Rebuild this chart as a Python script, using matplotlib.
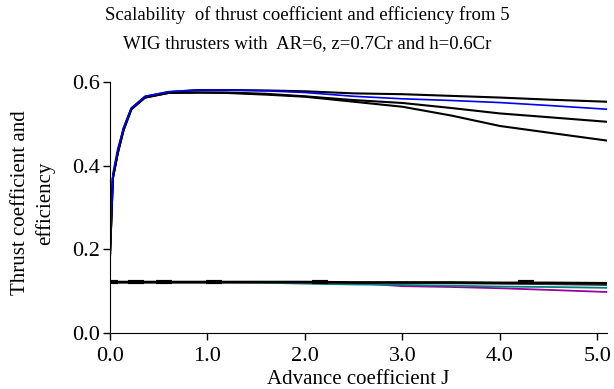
import matplotlib
matplotlib.use("Agg")
import matplotlib.pyplot as plt

plt.rcParams['font.family'] = ['Liberation Serif', 'DejaVu Serif']

J = [0.0, 0.03, 0.08, 0.14, 0.22, 0.36, 0.6, 0.9, 1.2, 1.6, 2.0, 2.5, 3.0, 3.5, 4.0, 4.5, 5.1]

eff_black1 = [0.18, 0.37, 0.43, 0.49, 0.537, 0.565, 0.576, 0.581, 0.581, 0.580, 0.578, 0.573, 0.571, 0.567, 0.563, 0.558, 0.553]
eff_blue   = [0.18, 0.38, 0.44, 0.49, 0.538, 0.566, 0.577, 0.581, 0.581, 0.579, 0.575, 0.566, 0.560, 0.556, 0.551, 0.544, 0.535]
eff_black2 = [0.18, 0.37, 0.43, 0.485, 0.535, 0.563, 0.574, 0.575, 0.575, 0.572, 0.566, 0.557, 0.550, 0.538, 0.525, 0.516, 0.505]
eff_black3 = [0.18, 0.37, 0.43, 0.485, 0.535, 0.563, 0.574, 0.575, 0.574, 0.570, 0.565, 0.553, 0.541, 0.520, 0.495, 0.479, 0.460]

ct_black1  = [0.122, 0.122, 0.122, 0.122, 0.122, 0.122, 0.122, 0.122, 0.122, 0.122, 0.122, 0.121, 0.121, 0.121, 0.120, 0.120, 0.119]
ct_black2  = [0.121, 0.121, 0.121, 0.121, 0.121, 0.121, 0.121, 0.121, 0.121, 0.121, 0.121, 0.120, 0.120, 0.119, 0.118, 0.117, 0.115]
ct_teal    = [0.121, 0.121, 0.121, 0.121, 0.121, 0.121, 0.121, 0.121, 0.121, 0.120, 0.118, 0.116, 0.115, 0.113, 0.111, 0.110, 0.108]
ct_magenta = [0.121, 0.121, 0.121, 0.121, 0.121, 0.121, 0.121, 0.121, 0.121, 0.121, 0.121, 0.120, 0.112, 0.110, 0.107, 0.103, 0.098]

dash_J  = [0.0, 0.27, 0.55, 1.07, 2.15, 4.27]
dash_ct = [0.122, 0.122, 0.122, 0.122, 0.122, 0.121]

fig = plt.figure(figsize=(6.14, 3.89), dpi=100)
ax = fig.add_axes([0.179, 0.144, 0.81, 0.645])

ax.plot(J, ct_magenta, color='#990099', lw=1.3)
ax.plot(J, ct_teal, color='#008080', lw=1.3)
ax.plot(J, ct_black2, color='#333333', lw=1.5)
ax.plot(J, ct_black1, color='black', lw=1.8)
ax.plot(dash_J, dash_ct, ls='none', marker='_', color='black', markersize=11, mew=3)

ax.plot(J, eff_black3, color='black', lw=1.5)
ax.plot(J, eff_black2, color='black', lw=1.5)
ax.plot(J, eff_black1, color='black', lw=1.5)
ax.plot(J, eff_blue, color='#0000ee', lw=1.2)

ax.set_xlim(0, 5.1)
ax.set_ylim(0, 0.6)
ax.set_xticks([0, 1, 2, 3, 4, 5])
ax.set_xticklabels(['0.0', '1.0', '2.0', '3.0', '4.0', '5.0'])
ax.set_yticks([0, 0.2, 0.4, 0.6])
ax.set_yticklabels(['0.0', '0.2', '0.4', '0.6'])
ax.spines['top'].set_visible(False)
ax.spines['right'].set_visible(False)
ax.tick_params(direction='out', length=5, width=1, labelsize=16)
ax.tick_params(axis='x', pad=5)
ax.tick_params(axis='y', pad=2)

ax.set_xlabel('Advance coefficient J', fontsize=15, labelpad=3)
fig.text(0.054, 0.478, 'Thrust coefficient and\nefficiency', fontsize=15, rotation=90,
         ha='center', va='center', multialignment='center', linespacing=1.35)

fig.text(0.5, 0.985, 'Scalability  of thrust coefficient and efficiency from 5\nWIG thrusters with  AR=6, z=0.7Cr and h=0.6Cr',
         ha='center', va='top', fontsize=13.5, linespacing=1.85)

fig.savefig('out.png', dpi=100)
